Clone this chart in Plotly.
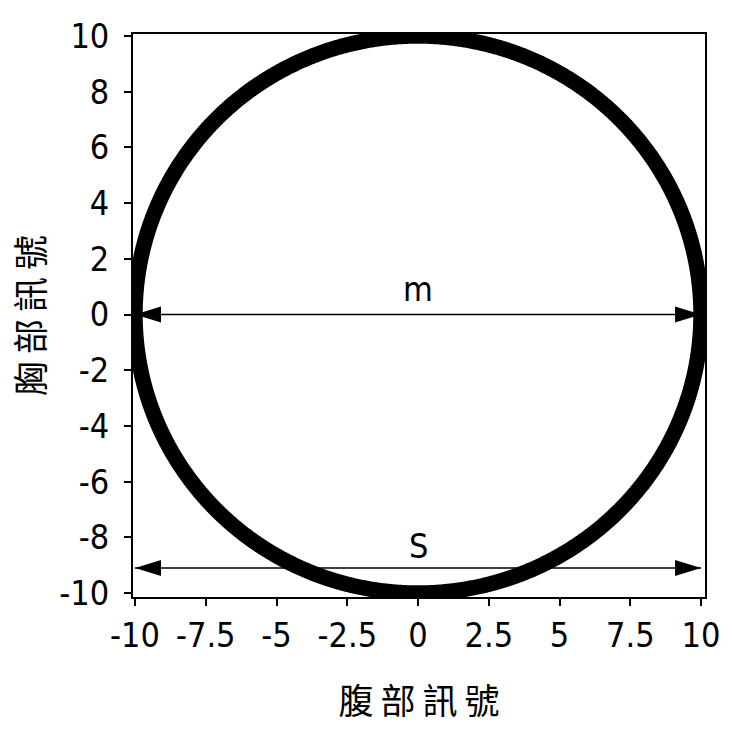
import numpy as np
import plotly.graph_objects as go

# Circle of radius 10 in the abdominal/chest signal plane
radius = 10.0
theta = np.linspace(0, 2 * np.pi, 1441)

# Horizontal dimension arrows: label, y position, x start, x end, label height
arrow_labels = ["m", "S"]
arrow_y = [0.0, -9.1]
arrow_x0 = [-10.0, -10.0]
arrow_x1 = [10.0, 10.0]
label_y = [0.93, -8.3]

x_ticks = [-10, -7.5, -5, -2.5, 0, 2.5, 5, 7.5, 10]
y_ticks = [-10, -8, -6, -4, -2, 0, 2, 4, 6, 8, 10]

narrow = "DejaVu Sans Condensed, Liberation Sans Narrow, Liberation Sans, sans-serif"
tick_font = dict(family=narrow, size=34, color="black")
title_font = dict(family="Noto Sans CJK TC, Noto Sans CJK SC, sans-serif", size=35, color="black")

fig = go.Figure()

fig.add_trace(go.Scatter(
    x=radius * np.cos(theta), y=radius * np.sin(theta),
    mode="lines", line=dict(color="black", width=15.5, simplify=False),
    hoverinfo="skip", showlegend=False,
))

shapes = []
for lab, yy, xa, xb, ly in zip(arrow_labels, arrow_y, arrow_x0, arrow_x1, label_y):
    fig.add_trace(go.Scatter(
        x=[xa, xb], y=[yy, yy], mode="lines",
        line=dict(color="black", width=1.6),
        hoverinfo="skip", showlegend=False,
    ))
    # filled arrowheads, sized in pixels and anchored at each end
    shapes.append(dict(type="path", xref="x", yref="y", xsizemode="pixel", ysizemode="pixel",
                       xanchor=xa, yanchor=yy, path="M0,0 L26,8 L26,-8 Z",
                       fillcolor="black", line=dict(color="black", width=0)))
    shapes.append(dict(type="path", xref="x", yref="y", xsizemode="pixel", ysizemode="pixel",
                       xanchor=xb, yanchor=yy, path="M0,0 L-26,8 L-26,-8 Z",
                       fillcolor="black", line=dict(color="black", width=0)))
    fig.add_annotation(x=0, y=ly, text=lab, showarrow=False,
                       font=dict(family=narrow, size=34, color="black"))

axis_common = dict(
    showgrid=False, zeroline=False, showline=True, linecolor="black", linewidth=1.8,
    mirror=True, ticks="outside", ticklen=7, tickwidth=1.5, tickcolor="black",
    tickfont=tick_font,
)

fig.update_layout(
    width=732, height=731,
    margin=dict(l=133, r=25, t=34, b=134),
    paper_bgcolor="white", plot_bgcolor="white",
    shapes=shapes,
    xaxis=dict(range=[-10.07, 10.14], tickvals=x_ticks,
               ticktext=[f"{v:g}" for v in x_ticks],
               title=dict(text="腹\u2009部\u2009訊\u2009號", font=title_font, standoff=36),
               **axis_common),
    yaxis=dict(range=[-10.14, 10.07], tickvals=y_ticks,
               ticktext=[f"{v:g}" for v in y_ticks],
               ticklabelstandoff=8,
               title=dict(text="胸\u2009部\u2009訊\u2009號", font=title_font, standoff=4),
               **axis_common),
)

fig.write_html("out.html")
